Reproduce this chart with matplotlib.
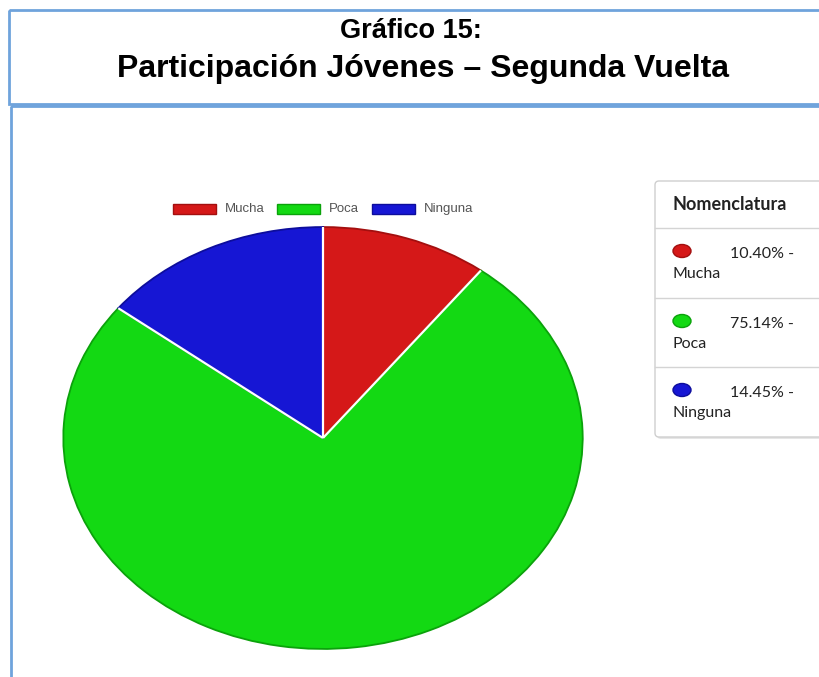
import numpy as np
import matplotlib
matplotlib.use("Agg")
import matplotlib.pyplot as plt
from matplotlib.patches import Rectangle, FancyBboxPatch, Ellipse

# ---- datos ----
labels = ["Mucha", "Poca", "Ninguna"]
values = [10.40, 75.14, 14.45]
colors = ["#d51818", "#13d913", "#1616d4"]
edges = ["#a30f0f", "#0ba20b", "#0d0d9c"]
title1 = "Gráfico 15:"
title2 = "Participación Jóvenes – Segunda Vuelta"
leg_title = "Nomenclatura"

W, H = 820, 677
fig = plt.figure(figsize=(W / 100, H / 100), dpi=100, facecolor="white")

# capa en pixeles para marcos y textos
ov = fig.add_axes([0, 0, 1, 1])
ov.set_xlim(0, W); ov.set_ylim(H, 0); ov.axis("off")
BLUE = "#6fa3dc"
ov.add_patch(Rectangle((9, 10), W + 10, 94, fill=False, ec=BLUE, lw=2))
ov.add_patch(Rectangle((11, 106), W + 10, H, fill=False, ec=BLUE, lw=2))
ov.text(411, 31, title1, ha="center", va="center", fontsize=19.5, weight="bold",
        family="Liberation Sans")
ov.text(423, 69, title2, ha="center", va="center", fontsize=23, weight="bold",
        family="Liberation Sans")

# ---- pie (elipse: ejes con aspecto libre) ----
cx, cy, rx, ry = 323, 438, 261, 212
ax = fig.add_axes([(cx - rx) / W, (H - cy - ry) / H, 2 * rx / W, 2 * ry / H])
wedges, _ = ax.pie(values, colors=colors, startangle=90, counterclock=False,
                   wedgeprops=dict(lw=1.3))
for w, ec in zip(wedges, edges):
    w.set_edgecolor(ec)
# separadores blancos entre porciones
cum = np.cumsum([0] + values) / sum(values)
for f in cum[:-1]:
    a = np.deg2rad(90 - 360 * f)
    ax.plot([0, np.cos(a)], [0, np.sin(a)], color="white", lw=1.6,
            solid_capstyle="butt")
ax.set_xlim(-1.005, 1.005); ax.set_ylim(-1.005, 1.005)
ax.set_aspect("auto"); ax.axis("off")

# ---- leyenda superior ----
lx = [173, 277, 372]
for x, lab, c, ec in zip(lx, labels, colors, edges):
    ov.add_patch(Rectangle((x, 204), 43, 10, fc=c, ec=ec, lw=1))
    ov.text(x + 52, 209, lab, ha="left", va="center", fontsize=9.5,
            color="#555555", family="Liberation Sans")

# ---- nomenclatura (derecha) ----
ov.add_patch(FancyBboxPatch((657, 183), 200, 256, boxstyle="round,pad=0,rounding_size=4",
                            fc="#e6e6e6", ec="none", lw=0))
ov.add_patch(FancyBboxPatch((655, 181), 200, 256, boxstyle="round,pad=0,rounding_size=4",
                            fc="white", ec="#cfcfcf", lw=1))
ov.text(673, 205, leg_title, ha="left", va="center", fontsize=13, weight="bold",
        family="Lato", color="#222222")
for ysep in (228, 298, 367):
    ov.plot([655, W], [ysep, ysep], color="#d4d4d4", lw=1)
row_y = [251, 321, 390]
for y, lab, v, c, ec in zip(row_y, labels, values, colors, edges):
    ov.add_patch(Ellipse((682, y), 18, 13, fc=c, ec=ec, lw=1))
    ov.text(794, y + 3, f"{v:.2f}% -", ha="right", va="center", fontsize=11.5,
            family="Lato", color="#222222")
    ov.text(673, y + 23, lab, ha="left", va="center", fontsize=11.5,
            family="Lato", color="#222222")

fig.savefig("out.png", dpi=100, facecolor="white")
